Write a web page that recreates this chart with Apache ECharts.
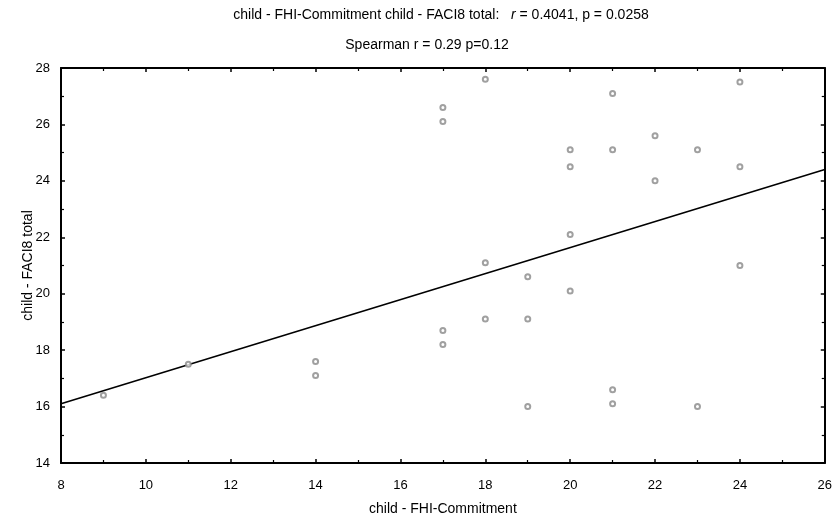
<!DOCTYPE html>
<html>
<head>
<meta charset="utf-8">
<script src="https://cdn.jsdelivr.net/npm/echarts@6/dist/echarts.min.js"></script>
<style>
  html, body { margin: 0; padding: 0; background: #fff; }
  #chart { width: 835px; height: 521px; }
</style>
</head>
<body>
<div id="chart"></div>
<script>
// Observations: FHI-Commitment score (x) vs FACI8 total (y)
const commitment = [9, 11, 14, 14, 17, 17, 17, 17, 18, 18, 18, 19, 19, 19, 20, 20, 20, 20,
                    21, 21, 21, 21, 22, 22, 23, 23, 24, 24, 24];
const faci8Total = [16.4, 17.5, 17.6, 17.1, 26.6, 26.1, 18.7, 18.2, 27.6, 21.1, 19.1, 20.6, 19.1, 16.0,
                    25.1, 24.5, 22.1, 20.1, 27.1, 25.1, 16.6, 16.1, 25.6, 24.0, 25.1, 16.0, 27.5, 24.5, 21.0];

// Least-squares fit line, drawn between its two ends at the axis limits
const fitX = [8, 26];
const fitY = [16.1, 24.4];

const xTicks = [8, 10, 12, 14, 16, 18, 20, 22, 24, 26];
const yTicks = [14, 16, 18, 20, 22, 24, 26, 28];

const FONT = "'Liberation Sans', Arial, sans-serif";

const points = commitment.map((x, i) => [x, faci8Total[i]]);
const fitLine = fitX.map((x, i) => [x, fitY[i]]);

function axisBase(min, max, ticks, showLabels, position) {
  return {
    type: 'value',
    position: position,
    min: min,
    max: max,
    interval: ticks[1] - ticks[0],
    axisLine: { show: true, onZero: false, lineStyle: { color: '#000', width: 2 } },
    axisTick: { show: true, inside: true, length: 4, lineStyle: { color: '#000', width: 1.5 } },
    minorTick: { show: true, splitNumber: 2, length: 3, lineStyle: { color: '#000', width: 1.2 } },
    splitLine: { show: false },
    axisLabel: {
      show: showLabels,
      color: '#000',
      fontFamily: FONT,
      fontSize: 13,
      margin: 8
    }
  };
}

const chart = echarts.init(document.getElementById('chart'), null, { renderer: 'canvas' });

const xBottom = Object.assign(axisBase(8, 26, xTicks, true, 'bottom'), {
  name: 'child - FHI-Commitment',
  nameLocation: 'middle',
  nameGap: 39,
  nameMoveOverlap: false,
  nameTextStyle: { color: '#000', fontFamily: FONT, fontSize: 14 }
});
xBottom.axisLabel.margin = 16;
const xTop = axisBase(8, 26, xTicks, false, 'top');

const yLeft = Object.assign(axisBase(14, 28, yTicks, true, 'left'), {
  name: 'child - FACI8 total',
  nameLocation: 'middle',
  nameGap: 26,
  nameMoveOverlap: false,
  nameTextStyle: { color: '#000', fontFamily: FONT, fontSize: 14 }
});
yLeft.axisLabel.margin = 11;
const yRight = axisBase(14, 28, yTicks, false, 'right');

chart.setOption({
  animation: false,
  backgroundColor: '#fff',
  title: [
    {
      text: 'child - FHI-Commitment child - FACI8 total:   {i|r} = 0.4041, p = 0.0258',
      left: 436,
      textAlign: 'center',
      top: 3,
      textStyle: {
        color: '#000',
        fontFamily: FONT,
        fontSize: 14,
        fontWeight: 'normal',
        rich: { i: { fontStyle: 'italic', fontFamily: FONT, fontSize: 14, color: '#000' } }
      }
    },
    {
      text: 'Spearman r = 0.29 p=0.12',
      left: 422,
      textAlign: 'center',
      top: 33,
      textStyle: { color: '#000', fontFamily: FONT, fontSize: 14, fontWeight: 'normal' }
    }
  ],
  grid: { left: 61, right: 9, top: 68, bottom: 55, containLabel: false },
  xAxis: [xBottom, xTop],
  yAxis: [yLeft, yRight],
  series: [
    {
      type: 'scatter',
      xAxisIndex: 0,
      yAxisIndex: 0,
      data: points,
      symbol: 'emptyCircle',
      symbolSize: 5,
      itemStyle: { color: '#888', borderColor: '#888', borderWidth: 0.9 },
      z: 3
    },
    {
      type: 'line',
      xAxisIndex: 0,
      yAxisIndex: 0,
      data: fitLine,
      showSymbol: false,
      lineStyle: { color: '#000', width: 1.6 },
      z: 2
    }
  ]
});
</script>
</body>
</html>
